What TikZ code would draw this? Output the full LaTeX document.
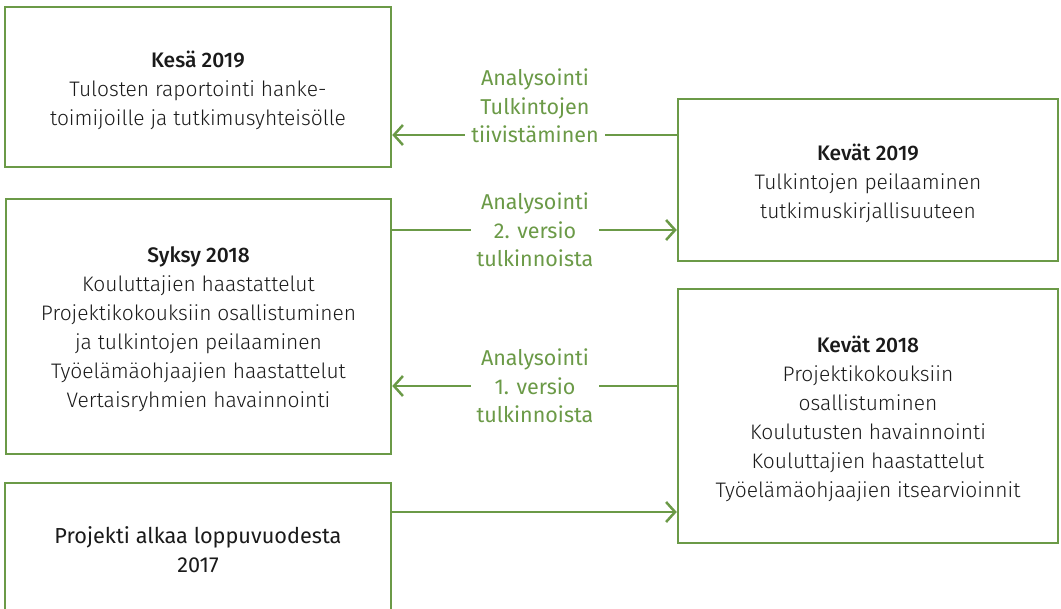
\documentclass[tikz,border=0pt]{standalone}
\usepackage{fontspec}
\setmainfont{Fira Sans}[UprightFont=* Light, BoldFont=* Medium]
\newfontfamily\regfont{Fira Sans}
\usetikzlibrary{arrows.meta}
\definecolor{gr}{HTML}{6B9A47}
\definecolor{tx}{HTML}{1A1A1A}
\begin{document}
\begin{tikzpicture}[x=1pt,y=-1pt,
  box/.style={draw=gr, line width=2.5pt, inner sep=0pt},
  boxtext/.style={align=center, text=tx, inner sep=0pt, font=\fontsize{21}{29}\selectfont},
  lbl/.style={fill=white, text=gr, align=center, inner xsep=6pt, inner ysep=0pt,
    font=\regfont\fontsize{21.5}{28.5}\selectfont},
  arr/.style={draw=gr, line width=2.5pt, -{Straight Barb[length=9pt,width=20pt,line width=2.5pt]}}]
\useasboundingbox (0,0) rectangle (1061,609);
\node[box, minimum width=386pt, minimum height=160pt] (kesa) at (198,87) {};
\node[boxtext] (kesa-t) at ([yshift=-3pt]kesa.center)
  {\textbf{Kesä 2019}\\Tulosten raportointi hanke-\\toimijoille ja tutkimusyhteisölle};
\node[box, minimum width=385pt, minimum height=255pt] (syksy) at (198.5,326.5) {};
\node[boxtext] (syksy-t) at ([yshift=-3pt]syksy.center)
  {\textbf{Syksy 2018}\\Kouluttajien haastattelut\\Projektikokouksiin osallistuminen\\ja tulkintojen peilaaminen\\Työelämäohjaajien haastattelut\\Vertaisryhmien havainnointi};
\node[box, minimum width=386pt, minimum height=134pt] (proj) at (198,550) {};
\node[boxtext, font=\regfont\fontsize{21.7}{29}\selectfont] (proj-t) at (proj.center)
  {Projekti alkaa loppuvuodesta\\2017};
\node[box, minimum width=380pt, minimum height=162pt] (k19) at (868,180) {};
\node[boxtext] (k19-t) at ([yshift=-3pt]k19.center)
  {\textbf{Kevät 2019}\\Tulkintojen peilaaminen\\tutkimuskirjallisuuteen};
\node[box, minimum width=380pt, minimum height=254pt] (k18) at (868,416) {};
\node[boxtext] (k18-t) at ([yshift=-3pt]k18.center)
  {\textbf{Kevät 2018}\\Projektikokouksiin\\osallistuminen\\Koulutusten havainnointi\\Kouluttajien haastattelut\\Työelämäohjaajien itsearvioinnit};
\draw[arr] (k19.west |- 0,135) -- (kesa.east |- 0,135);
\draw[arr] (syksy.east |- 0,230) -- (k19.west |- 0,230);
\draw[arr] (k18.west |- 0,386) -- (syksy.east |- 0,386);
\draw[arr] (proj.east |- 0,512) -- (k18.west |- 0,512);
\node[lbl] (l1) at (535,106) {Analysointi\\Tulkintojen\\tiivistäminen};
\node[lbl] (l2) at (535,230) {Analysointi\\2. versio\\tulkinnoista};
\node[lbl] (l3) at (535,386) {Analysointi\\1. versio\\tulkinnoista};
\end{tikzpicture}
\end{document}
